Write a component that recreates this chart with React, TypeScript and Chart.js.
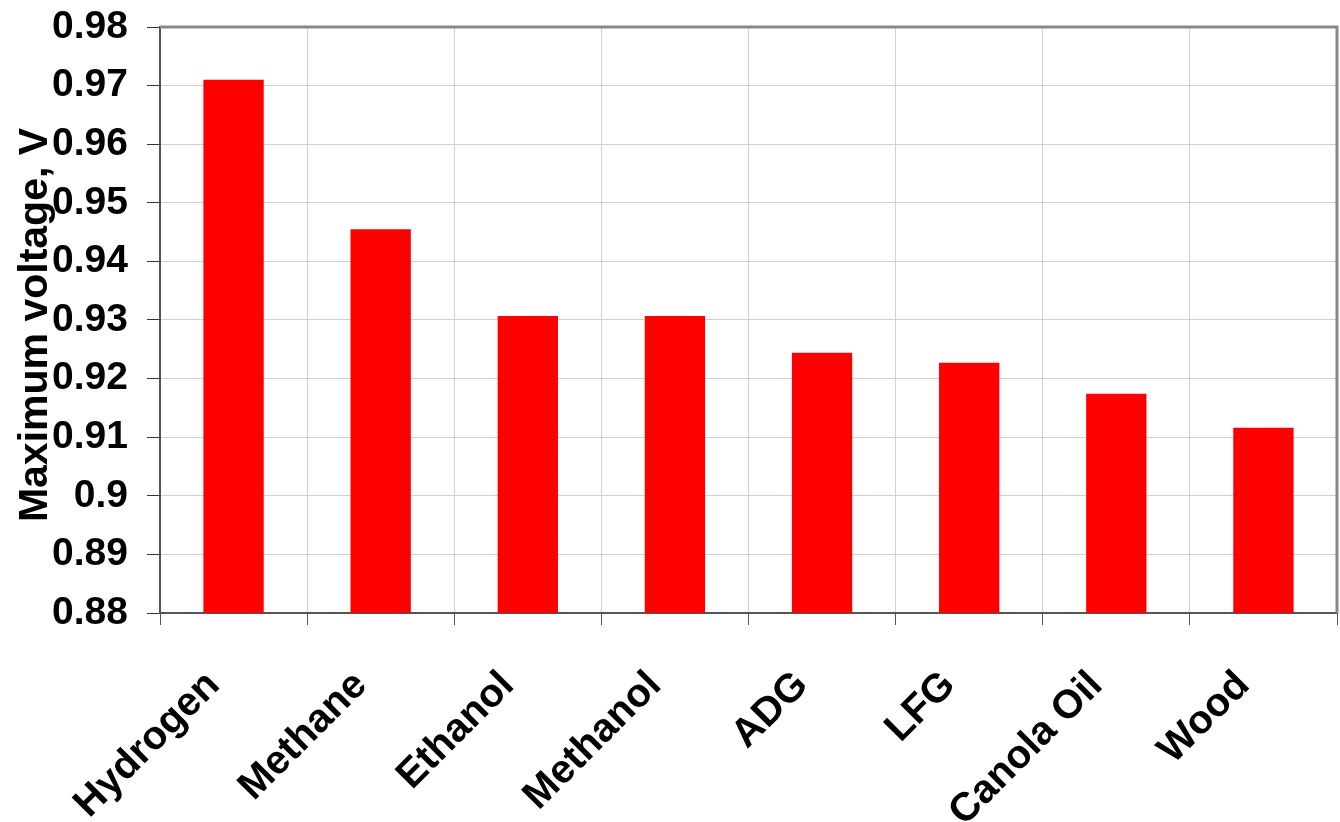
import React, { useEffect, useRef } from 'react';
import { Chart, registerables } from 'chart.js';

Chart.register(...registerables);

const categories = ['Hydrogen', 'Methane', 'Ethanol', 'Methanol', 'ADG', 'LFG', 'Canola Oil', 'Wood'];
const maxVoltage = [0.971, 0.9455, 0.9307, 0.9307, 0.9244, 0.9227, 0.9174, 0.9116];
const yMin = 0.88;
const yMax = 0.98;
const yStep = 0.01;
const yTitle = 'Maximum voltage, V';

const FONT = '"Liberation Sans", Arial, sans-serif';

const framePlugin = {
  id: 'frameAndTitle',
  afterDraw(chart: any) {
    const { ctx, chartArea } = chart;
    ctx.save();
    ctx.strokeStyle = '#888888';
    ctx.lineWidth = 3;
    ctx.beginPath();
    ctx.moveTo(chartArea.left, chartArea.top);
    ctx.lineTo(chartArea.right, chartArea.top);
    ctx.lineTo(chartArea.right, chartArea.bottom);
    ctx.stroke();
    ctx.restore();

    ctx.save();
    ctx.translate(36, (chartArea.top + chartArea.bottom) / 2 + 5);
    ctx.rotate(-Math.PI / 2);
    ctx.font = `bold 41px ${FONT}`;
    ctx.fillStyle = '#000';
    ctx.textAlign = 'center';
    ctx.textBaseline = 'middle';
    ctx.fillText(yTitle, 0, 0);
    ctx.restore();
  },
};

export default function App() {
  const ref = useRef<HTMLCanvasElement | null>(null);

  useEffect(() => {
    if (!ref.current) return;
    const chart = new Chart(ref.current, {
      type: 'bar',
      data: {
        labels: categories,
        datasets: [
          {
            data: maxVoltage,
            backgroundColor: '#ff0000',
            borderWidth: 0,
            categoryPercentage: 1,
            barPercentage: 0.41,
          },
        ],
      },
      plugins: [framePlugin],
      options: {
        animation: false,
        responsive: true,
        maintainAspectRatio: false,
        layout: { padding: { top: 27, right: 3, left: 0, bottom: 0 } },
        plugins: { legend: { display: false }, tooltip: { enabled: false } },
        scales: {
          x: {
            offset: true,
            grid: {
              offset: true,
              color: '#d0d0d0',
              lineWidth: 1,
              tickColor: '#555555',
              tickLength: 12,
              drawTicks: true,
            },
            border: { color: '#555555', width: 2 },
            ticks: {
              color: '#000',
              font: { family: FONT, size: 40, weight: 'bold' },
              minRotation: 45,
              maxRotation: 45,
              padding: 37,
              labelOffset: -20,
              autoSkip: false,
            },
            afterFit(scale: any) {
              scale.height = 822 - 613;
            },
          },
          y: {
            min: yMin,
            max: yMax,
            grid: {
              color: '#d0d0d0',
              lineWidth: 1,
              tickColor: '#333333',
              tickLength: 13,
            },
            border: { color: '#555555', width: 2 },
            ticks: {
              stepSize: yStep,
              color: '#000',
              padding: 19,
              autoSkip: false,
              font: { family: FONT, size: 39, weight: 'bold', lineHeight: 0.3 },
              callback: (v: any) => String(Number(Number(v).toFixed(2))),
            },
            afterFit(scale: any) {
              scale.width = 160;
            },
          },
        },
      },
    });
    return () => chart.destroy();
  }, []);

  return (
    <div style={{ position: 'fixed', left: 0, top: 0, width: 1340, height: 822, background: '#fff' }}>
      <canvas ref={ref} />
    </div>
  );
}
